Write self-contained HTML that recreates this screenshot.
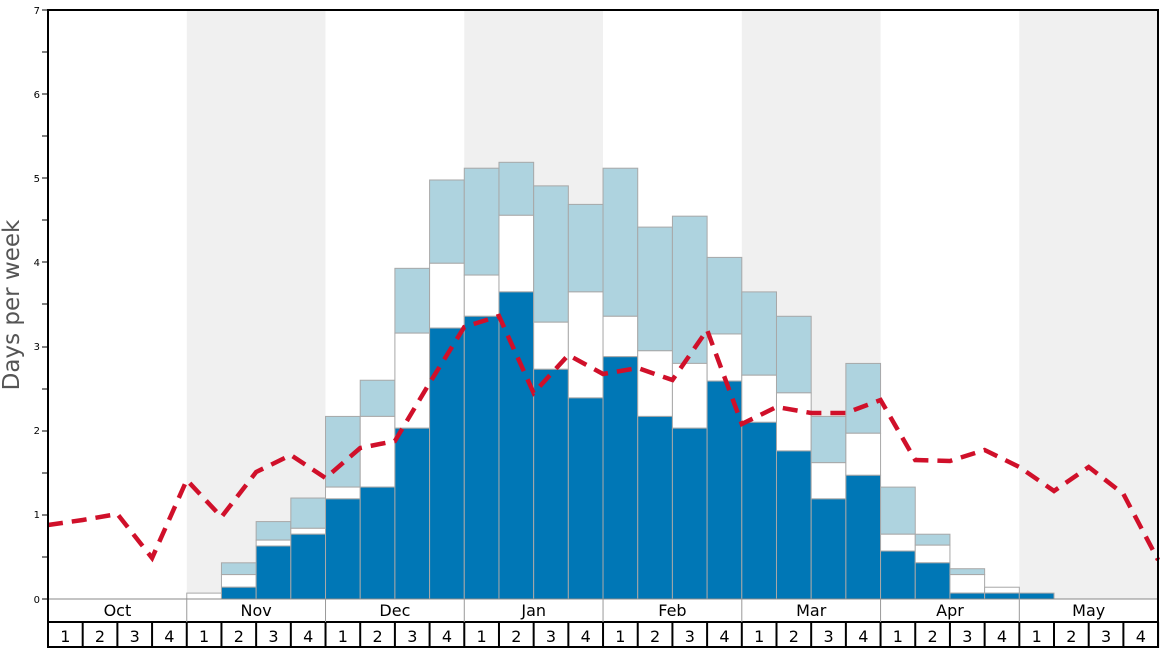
<!DOCTYPE html>
<html><head><meta charset="utf-8"><style>
html,body{margin:0;padding:0;background:#fff;}
svg{display:block;font-family:"DejaVu Sans","Liberation Sans",sans-serif;}
</style></head><body>
<svg id="s" width="1168" height="648" xmlns="http://www.w3.org/2000/svg">
<rect x="0" y="0" width="1168" height="648" fill="#fff"/>
<rect x="186.8" y="10" width="138.7" height="589" fill="#f0f0f0"/>
<rect x="464.3" y="10" width="138.7" height="589" fill="#f0f0f0"/>
<rect x="741.8" y="10" width="138.8" height="589" fill="#f0f0f0"/>
<rect x="1019.3" y="10" width="138.7" height="589" fill="#f0f0f0"/>
<g id="bars"></g>
<polyline id="red" fill="none" stroke="#d0102a" stroke-width="4.5" stroke-dasharray="15,9" points=""/>
<g font-size="10" fill="#000" text-anchor="end">
<text x="40" y="14">7</text><text x="40" y="98">6</text><text x="40" y="182">5</text><text x="40" y="266">4</text><text x="40" y="350">3</text><text x="40" y="434">2</text><text x="40" y="518">1</text><text x="40" y="603">0</text>
</g>
<g stroke="#000" stroke-width="1">
<line x1="42" y1="10" x2="48" y2="10"/><line x1="42" y1="52" x2="48" y2="52"/><line x1="42" y1="94" x2="48" y2="94"/><line x1="42" y1="136" x2="48" y2="136"/><line x1="42" y1="178" x2="48" y2="178"/><line x1="42" y1="220" x2="48" y2="220"/><line x1="42" y1="262" x2="48" y2="262"/><line x1="42" y1="304" x2="48" y2="304"/><line x1="42" y1="347" x2="48" y2="347"/><line x1="42" y1="389" x2="48" y2="389"/><line x1="42" y1="431" x2="48" y2="431"/><line x1="42" y1="473" x2="48" y2="473"/><line x1="42" y1="515" x2="48" y2="515"/><line x1="42" y1="557" x2="48" y2="557"/><line x1="42" y1="599" x2="48" y2="599"/>
</g>
<text transform="translate(19,305) rotate(-90)" font-size="23" fill="#555" text-anchor="middle">Days per week</text>
<line x1="48" y1="599" x2="1158" y2="599" stroke="#888" stroke-width="1"/>
<line x1="48" y1="622" x2="1158" y2="622" stroke="#000" stroke-width="2"/>
<line x1="48" y1="647" x2="1158" y2="647" stroke="#000" stroke-width="2"/>
<g id="grid"></g>
<g font-size="16" fill="#000" text-anchor="middle">
<text x="117.4" y="616">Oct</text><text x="256.1" y="616">Nov</text><text x="394.9" y="616">Dec</text><text x="533.7" y="616">Jan</text><text x="672.4" y="616">Feb</text><text x="811.2" y="616">Mar</text><text x="950" y="616">Apr</text><text x="1088.7" y="616">May</text>
</g>
<g id="wk" font-size="16" fill="#000" text-anchor="middle">
<text x="65.3" y="642">1</text><text x="100" y="642">2</text><text x="134.7" y="642">3</text><text x="169.4" y="642">4</text>
<text x="204.1" y="642">1</text><text x="238.8" y="642">2</text><text x="273.5" y="642">3</text><text x="308.2" y="642">4</text>
<text x="342.9" y="642">1</text><text x="377.6" y="642">2</text><text x="412.3" y="642">3</text><text x="447" y="642">4</text>
<text x="481.6" y="642">1</text><text x="516.3" y="642">2</text><text x="551" y="642">3</text><text x="585.7" y="642">4</text>
<text x="620.4" y="642">1</text><text x="655.1" y="642">2</text><text x="689.8" y="642">3</text><text x="724.5" y="642">4</text>
<text x="759.2" y="642">1</text><text x="793.9" y="642">2</text><text x="828.6" y="642">3</text><text x="863.3" y="642">4</text>
<text x="897.9" y="642">1</text><text x="932.6" y="642">2</text><text x="967.3" y="642">3</text><text x="1002" y="642">4</text>
<text x="1036.7" y="642">1</text><text x="1071.4" y="642">2</text><text x="1106.1" y="642">3</text><text x="1140.8" y="642">4</text>
</g>
<rect x="48" y="10" width="1110" height="638" fill="none" stroke="#000" stroke-width="2"/>
</svg>
<script>
var W=34.69,X0=48,Y0=599,S=84.14;
function x(i){return X0+W*i;}
function y(v){return Y0-v*S;}
var d=[null,null,null,null,[0,0.07,0.07],[0.14,0.29,0.43],[0.63,0.70,0.92],[0.77,0.84,1.2],
[1.19,1.33,2.17],[1.33,2.17,2.6],[2.03,3.16,3.93],[3.22,3.99,4.98],
[3.36,3.85,5.12],[3.65,4.56,5.19],[2.73,3.29,4.91],[2.39,3.65,4.69],
[2.88,3.36,5.12],[2.17,2.95,4.42],[2.03,2.80,4.55],[2.59,3.15,4.06],
[2.10,2.66,3.65],[1.76,2.45,3.36],[1.19,1.62,2.17],[1.47,1.97,2.8],
[0.57,0.77,1.33],[0.43,0.64,0.77],[0.07,0.29,0.36],[0.07,0.14,0.14],[0.07,0.07,0.07]];
var ns="http://www.w3.org/2000/svg",g=document.getElementById("bars");
function r(x1,y1,w,h,f){var e=document.createElementNS(ns,"rect");e.setAttribute("x",x1);e.setAttribute("y",y1);e.setAttribute("width",w);e.setAttribute("height",h);e.setAttribute("fill",f);e.setAttribute("stroke","#a8a8a8");e.setAttribute("stroke-width","1");g.appendChild(e);}
d.forEach(function(b,i){if(!b)return;var xx=x(i);
if(b[2]>b[1])r(xx,y(b[2]),W,y(b[1])-y(b[2]),"#aed3df");
if(b[1]>b[0])r(xx,y(b[1]),W,y(b[0])-y(b[1]),"#ffffff");
if(b[0]>0)r(xx,y(b[0]),W,Y0-y(b[0]),"#0077b6");});
var ry=[525,520,514,558,480,517,472,455,478,448,441,383,327,316,393,355,374,368,380,330,424,407,413,413,400,460,461,450,467,491,467,494,560];
document.getElementById("red").setAttribute("points",ry.map(function(v,i){return x(i)+","+v;}).join(" "));
var gr=document.getElementById("grid"),s="";
for(var i=0;i<=32;i++){var xx=x(i);s+='<line x1="'+xx+'" y1="622" x2="'+xx+'" y2="648" stroke="#000" stroke-width="2"/>';if(i%4==0)s+='<line x1="'+xx+'" y1="599" x2="'+xx+'" y2="622" stroke="#999" stroke-width="1"/>';}
gr.innerHTML=s;
</script>
</body></html>
